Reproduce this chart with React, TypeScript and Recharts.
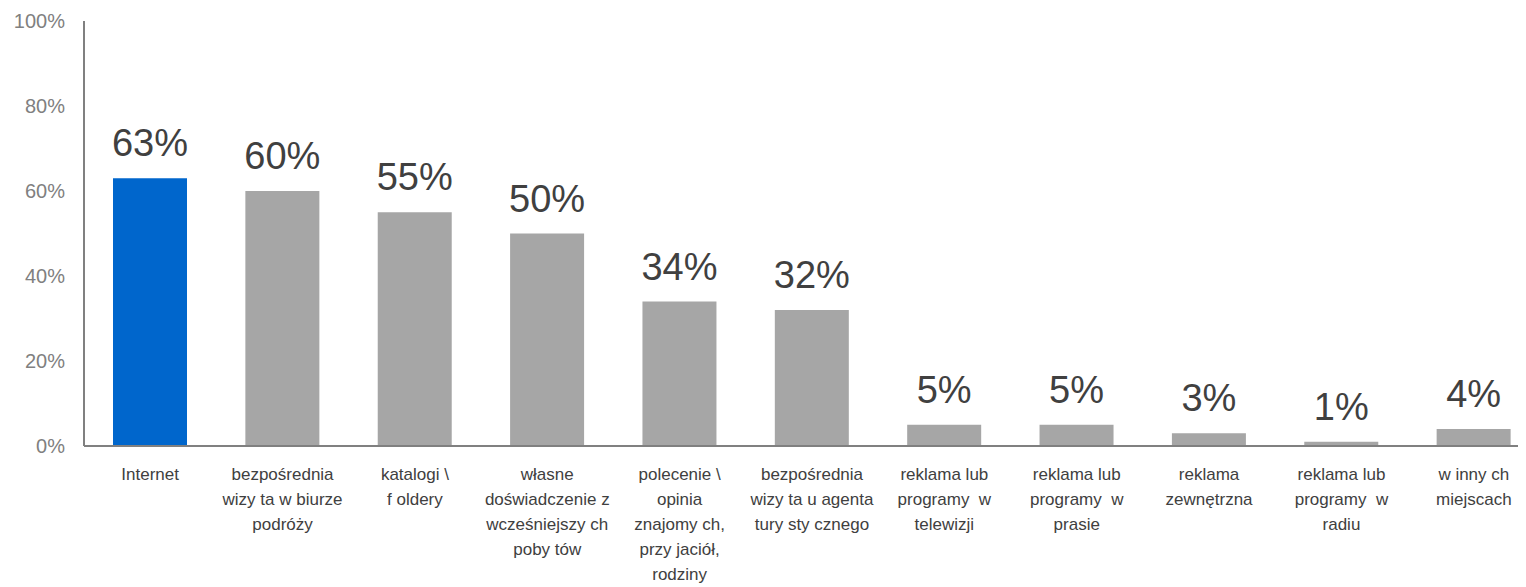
import { BarChart, Bar, XAxis, YAxis, Cell, LabelList } from 'recharts';

const categories: string[][] = [
  ['Internet'],
  ['bezpośrednia', 'wizy ta w biurze', 'podróży'],
  ['katalogi \\', 'f oldery'],
  ['własne', 'doświadczenie z', 'wcześniejszy ch', 'poby tów'],
  ['polecenie \\', 'opinia', 'znajomy ch,', 'przy jaciół,', 'rodziny'],
  ['bezpośrednia', 'wizy ta u agenta', 'tury sty cznego'],
  ['reklama lub', 'programy  w', 'telewizji'],
  ['reklama lub', 'programy  w', 'prasie'],
  ['reklama', 'zewnętrzna'],
  ['reklama lub', 'programy  w', 'radiu'],
  ['w inny ch', 'miejscach'],
];

const values = [63, 60, 55, 50, 34, 32, 5, 5, 3, 1, 4];
const yTicks = [0, 20, 40, 60, 80, 100];

const data = values.map((v, i) => ({ name: String(i), value: v }));

function CategoryTick(props: any) {
  const { x, y, payload } = props;
  const lines = categories[Number(payload.value)] || [];
  return (
    <text
      x={x}
      y={y}
      textAnchor="middle"
      fill="#404040"
      fontSize={17}
      fontFamily="'Liberation Sans', Arial, sans-serif"
    >
      {lines.map((l, i) => (
        <tspan key={i} x={x} dy={i === 0 ? 28 : 25} style={{ whiteSpace: 'pre' }}>
          {l}
        </tspan>
      ))}
    </text>
  );
}

export default function App() {
  return (
    <div style={{ width: 1518, height: 579, overflow: 'hidden' }}>
      <BarChart
        width={1532}
        height={579}
        data={data}
        margin={{ top: 13, right: 0, bottom: 0, left: 0 }}
      >
        <XAxis
          dataKey="name"
          tick={<CategoryTick />}
          tickLine={false}
          stroke="#808080"
          strokeWidth={2}
          height={141}
          interval={0}
          tickSize={6}
          tickMargin={0}
        />
        <YAxis
          domain={[0, 100]}
          ticks={yTicks}
          tickFormatter={(v) => `${v}%`}
          tickLine={false}
          stroke="#808080"
          strokeWidth={2}
          width={76}
          tickSize={6}
          tickMargin={13}
          tick={{ fill: '#808080', fontSize: 20, fontFamily: "'Liberation Sans', Arial, sans-serif" }}
        />
        <Bar dataKey="value" barSize={74} isAnimationActive={false}>
          {data.map((d, i) => (
            <Cell key={d.name} fill={i === 0 ? '#0066CC' : '#A6A6A6'} />
          ))}
          <LabelList
            dataKey="value"
            position="top"
            offset={22}
            formatter={(v: any) => `${v}%`}
            fill="#404040"
            fontSize={38}
            fontFamily="'Liberation Sans', Arial, sans-serif"
          />
        </Bar>
      </BarChart>
    </div>
  );
}
